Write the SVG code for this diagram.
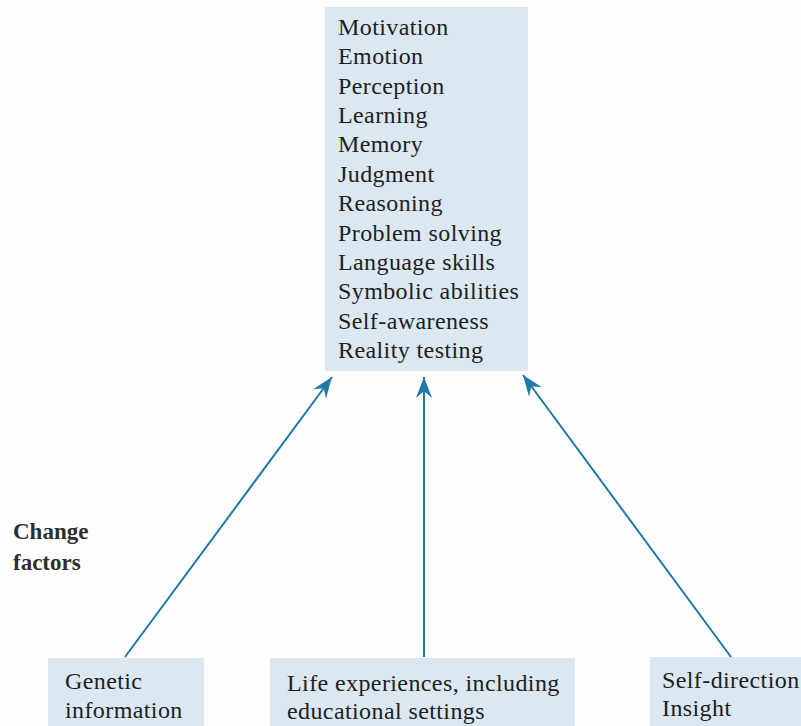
<svg xmlns="http://www.w3.org/2000/svg" width="801" height="726" viewBox="0 0 801 726">
<defs>
<style>
.box{fill:#dbe7f1;}
.t{font-family:"Liberation Serif","Times New Roman",serif;font-size:24px;fill:#1e1e1e;letter-spacing:0.4px;}
.lbl{font-family:"Liberation Serif","Times New Roman",serif;font-size:23px;font-weight:bold;fill:#2e2e2e;}
.c{stroke:#1f7aa6;stroke-width:2;fill:none;marker-end:url(#ah);}
</style>
<marker id="ah" viewBox="-22 -9 24 18" markerUnits="userSpaceOnUse" markerWidth="24" markerHeight="18" refX="0" refY="0" orient="auto">
<path d="M0,0 L-21,-8 L-14,0 L-21,8 Z" fill="#1f7aa6"/>
</marker>
</defs>
<rect width="801" height="726" fill="#fdfdfd"/>
<g id="abilities">
<rect class="box" x="325" y="7" width="203" height="364"/>
<text class="t" x="338" y="35">Motivation</text>
<text class="t" x="338" y="64.4">Emotion</text>
<text class="t" x="338" y="93.7">Perception</text>
<text class="t" x="338" y="123.1">Learning</text>
<text class="t" x="338" y="152.4">Memory</text>
<text class="t" x="338" y="181.8">Judgment</text>
<text class="t" x="338" y="211.2">Reasoning</text>
<text class="t" x="338" y="240.5">Problem solving</text>
<text class="t" x="338" y="269.9">Language skills</text>
<text class="t" x="338" y="299.2">Symbolic abilities</text>
<text class="t" x="338" y="328.6">Self-awareness</text>
<text class="t" x="338" y="358">Reality testing</text>
</g>
<g id="change-factors">
<text class="lbl" x="13" y="539">Change</text>
<text class="lbl" x="13" y="570">factors</text>
</g>
<g id="genetic">
<rect class="box" x="48" y="658" width="156" height="68"/>
<text class="t" x="65" y="689">Genetic</text>
<text class="t" x="65" y="718">information</text>
</g>
<g id="life">
<rect class="box" x="270" y="658" width="305" height="68"/>
<text class="t" x="287" y="691">Life experiences, including</text>
<text class="t" x="287" y="719">educational settings</text>
</g>
<g id="self">
<rect class="box" x="650" y="657" width="151" height="69"/>
<text class="t" x="662" y="688">Self-direction</text>
<text class="t" x="662" y="716">Insight</text>
</g>
<g id="connectors">
<line class="c" x1="125" y1="657" x2="332" y2="377"/>
<line class="c" x1="424" y1="657" x2="424" y2="377"/>
<line class="c" x1="731" y1="657" x2="523" y2="375"/>
</g>
</svg>
